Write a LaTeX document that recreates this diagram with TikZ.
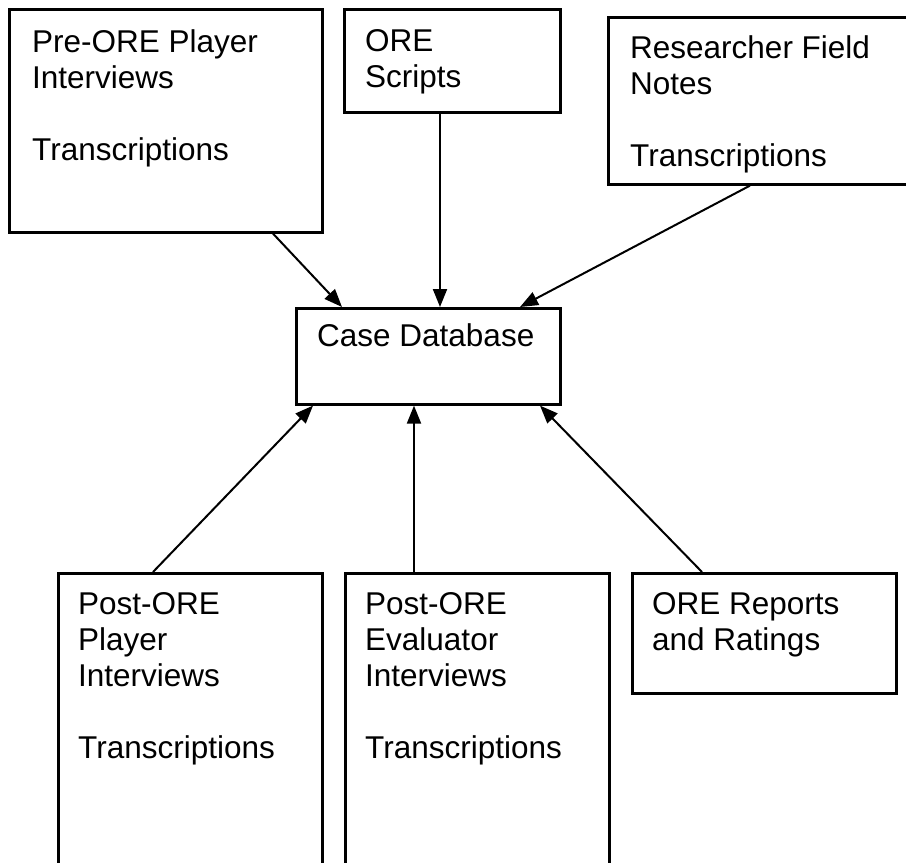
\documentclass[tikz,border=0pt]{standalone}
\usepackage{fontspec}
\setmainfont{Liberation Sans}
\usetikzlibrary{arrows.meta}
\tikzset{
  srcbox/.style={draw, line width=2.6pt, rectangle, inner sep=0pt, anchor=north west},
  boxtext/.style={anchor=north west, inner sep=0pt, align=left,
                  font=\fontsize{31.5}{36}\selectfont},
  feed/.style={line width=2pt, -{Triangle[length=18pt,width=14pt]}},
}
\begin{document}
\begin{tikzpicture}[x=1pt, y=-1pt]
  \useasboundingbox (0,0) rectangle (906,863);
  \fill[white] (0,0) rectangle (906,863);
  \clip (0,0) rectangle (906,863);

  % data sources above the database
  \node[srcbox, minimum width=313pt, minimum height=223pt] (pre) at (8,8) {};
  \node[boxtext] (pretext) at (32,29) {Pre-ORE Player\\Interviews\\[36pt]Transcriptions};

  \node[srcbox, minimum width=216pt, minimum height=103pt] (scr) at (343,8) {};
  \node[boxtext] (scrtext) at (365,29) {ORE\\Scripts};

  \node[srcbox, minimum width=310pt, minimum height=167pt] (rfn) at (607,16) {};
  \node[boxtext] (rfntext) at (630,35) {Researcher Field\\Notes\\[36pt]Transcriptions};

  % the case database
  \node[srcbox, minimum width=264pt, minimum height=96pt] (db) at (295,307) {};
  \node[boxtext] (dbtext) at (317,323) {Case Database};

  % data sources below the database
  \node[srcbox, minimum width=264pt, minimum height=320pt] (pb) at (57,572) {};
  \node[boxtext] (pbtext) at (78,592) {Post-ORE\\Player\\Interviews\\[36pt]Transcriptions};

  \node[srcbox, minimum width=264pt, minimum height=320pt] (eb) at (344,572) {};
  \node[boxtext] (ebtext) at (365,592) {Post-ORE\\Evaluator\\Interviews\\[36pt]Transcriptions};

  \node[srcbox, minimum width=264pt, minimum height=120pt] (rb) at (631,572) {};
  \node[boxtext] (rbtext) at (652,592) {ORE Reports\\and Ratings};

  % flows into the database
  \draw[feed] ([xshift=265pt]pre.south west) -- ([xshift=47pt]db.north west);
  \draw[feed] ([xshift=97pt]scr.south west) -- ([xshift=145pt]db.north west);
  \draw[feed] ([xshift=143pt]rfn.south west) -- ([xshift=225pt]db.north west);
  \draw[feed] ([xshift=96pt]pb.north west) -- ([xshift=18pt]db.south west);
  \draw[feed] ([xshift=70pt]eb.north west) -- ([xshift=119pt]db.south west);
  \draw[feed] ([xshift=71pt]rb.north west) -- ([xshift=245pt]db.south west);
\end{tikzpicture}
\end{document}
